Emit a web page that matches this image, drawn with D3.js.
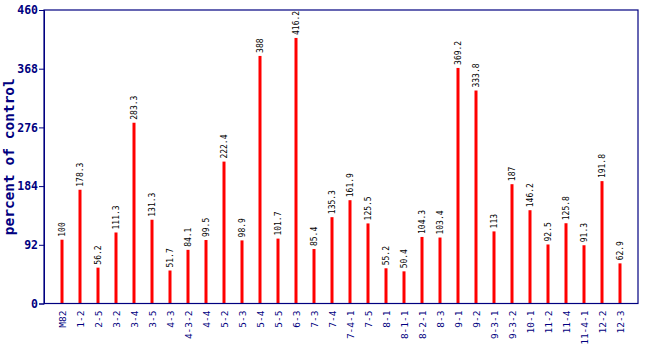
<!DOCTYPE html>
<html><head><meta charset="utf-8">
<script src="https://cdn.jsdelivr.net/npm/d3@7"></script>
<style>body{margin:0;background:#fff}</style>
</head><body>
<svg id="c" width="650" height="350"></svg>
<script>
const categories = ["M82","1-2","2-5","3-2","3-4","3-5","4-3","4-3-2","4-4","5-2","5-3","5-4","5-5","6-3","7-3","7-4","7-4-1","7-5","8-1","8-1-1","8-2-1","8-3","9-1","9-2","9-3-1","9-3-2","10-1","11-2","11-4","11-4-1","12-2","12-3"];
const values = [100,178.3,56.2,111.3,283.3,131.3,51.7,84.1,99.5,222.4,98.9,388,101.7,416.2,85.4,135.3,161.9,125.5,55.2,50.4,104.3,103.4,369.2,333.8,113,187,146.2,92.5,125.8,91.3,191.8,62.9];
const valueLabels = ["100","178.3","56.2","111.3","283.3","131.3","51.7","84.1","99.5","222.4","98.9","388","101.7","416.2","85.4","135.3","161.9","125.5","55.2","50.4","104.3","103.4","369.2","333.8","113","187","146.2","92.5","125.8","91.3","191.8","62.9"];
const yTicks = [0,92,184,276,368,460];
const yTitle = "percent of control";

const navy = "#000080";
const L = 44, R = 638, T = 10, B = 303.5;
const svg = d3.select("#c");
const x = d3.scalePoint().domain(categories).range([L, R]).padding(1);
const y = d3.scaleLinear().domain([0, 460]).range([B, T]);

// bars
svg.append("g").selectAll("rect").data(values).join("rect")
  .attr("x", (d,i) => x(categories[i]) - 1.5)
  .attr("width", 3)
  .attr("y", d => y(d))
  .attr("height", d => B - y(d))
  .attr("fill", "#ff0000");

// value labels
svg.append("g").selectAll("text").data(values).join("text")
  .attr("transform", (d,i) => `translate(${x(categories[i]) + 3},${y(d) - 3}) rotate(-90)`)
  .attr("text-anchor", "start")
  .attr("font-family", "DejaVu Sans Mono, monospace")
  .attr("font-size", 8)
  .attr("fill", "#000")
  .text((d,i) => valueLabels[i]);

// frame
svg.append("rect").attr("x", L).attr("y", T).attr("width", R - L).attr("height", B - T)
  .attr("fill", "none").attr("stroke", navy).attr("stroke-width", 1.2);

// y axis
const ya = svg.append("g").attr("transform", `translate(${L},0)`)
  .call(d3.axisLeft(y).tickValues(yTicks).tickSize(5).tickPadding(1).tickFormat(d3.format("d")));
ya.select(".domain").attr("stroke", navy);
ya.selectAll(".tick line").attr("stroke", navy);
ya.selectAll(".tick text").attr("fill", navy).attr("font-family", "DejaVu Sans Mono, monospace")
  .attr("font-weight", "bold").attr("font-size", 11.5);

// x axis
const xa = svg.append("g").attr("transform", `translate(0,${B})`)
  .call(d3.axisBottom(x).tickSize(0));
xa.select(".domain").remove();
xa.selectAll(".tick text").attr("fill", navy).attr("font-family", "DejaVu Sans Mono, monospace")
  .attr("font-size", 9.5)
  .attr("transform", "rotate(-90)")
  .attr("text-anchor", "end")
  .attr("x", -7).attr("y", 0).attr("dy", "0.35em");

// y title
svg.append("text")
  .attr("transform", `translate(14,${(T + B) / 2}) rotate(-90)`)
  .attr("text-anchor", "middle")
  .attr("font-family", "DejaVu Sans Mono, monospace")
  .attr("font-size", 14.5).attr("font-weight", "bold").attr("fill", navy)
  .text(yTitle);
</script>
</body></html>
